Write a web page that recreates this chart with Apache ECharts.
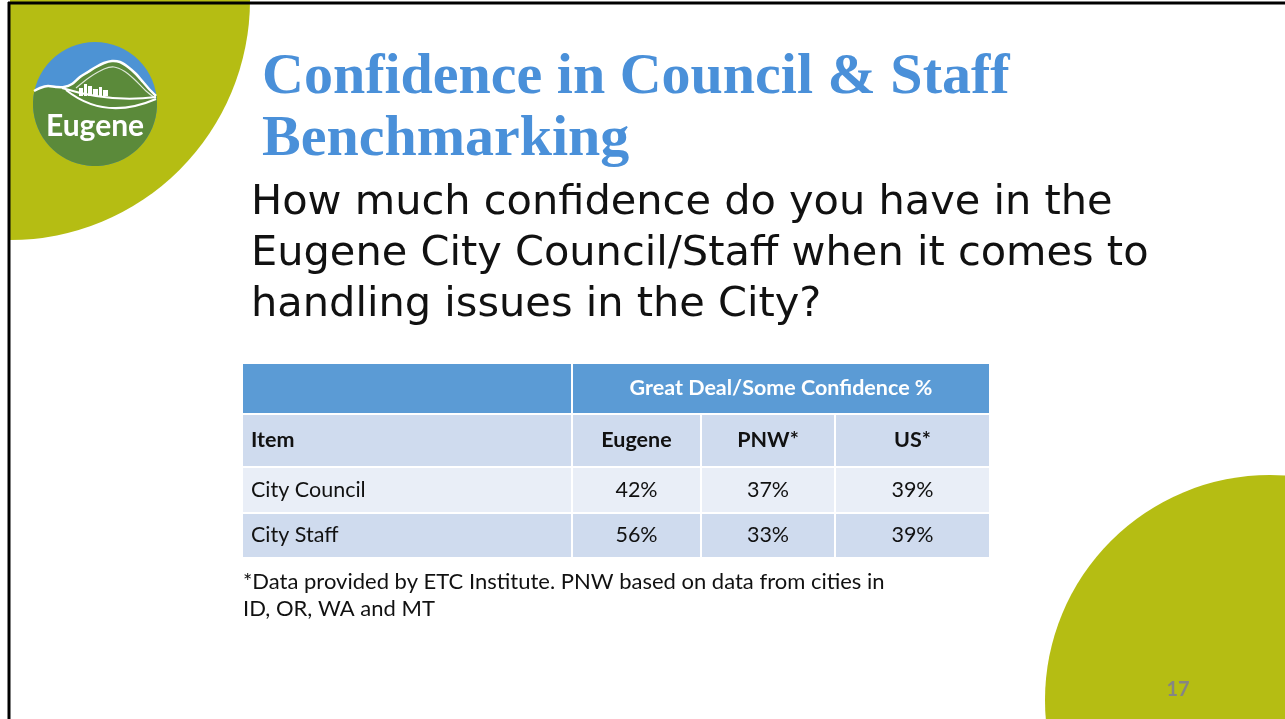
<!DOCTYPE html>
<html>
<head>
<meta charset="utf-8">
<title>Confidence in Council &amp; Staff Benchmarking</title>
<script src="https://cdn.jsdelivr.net/npm/echarts@6/dist/echarts.min.js"></script>
<style>
  html, body { margin: 0; padding: 0; background: #fff; }
  #main { width: 1285px; height: 719px; }
</style>
</head>
<body>
<div id="main"></div>
<script>
// ---- table data ----
var groupLabel = 'Great Deal/Some Confidence %';
var itemHeader = 'Item';
var places = ['Eugene', 'PNW*', 'US*'];
var items = ['City Council', 'City Staff'];
var eugene = [42, 56];
var pnw = [37, 33];
var us = [39, 39];

// ---- slide text ----
var titleText = 'Confidence in Council & Staff\nBenchmarking';
var questionLines = [
  'How much confidence do you have in the',
  'Eugene City Council/Staff when it comes to',
  'handling issues in the City?'
];
var footLines = [
  '*Data provided by ETC Institute. PNW based on data from cities in',
  'ID, OR, WA and MT'
];
var pageNo = '17';

// layout of table columns / rows (hidden value axes)
var colEdges = [0, 330, 459, 593, 748];
var rowEdges = [0, 51, 104, 150, 195];

// cells: [startCol, row, endCol], text + kind kept alongside
var cells = [];
var cellText = [];
var cellKind = [];
function addCell(c0, r, c1, txt, kind) {
  cells.push([c0, r, c1]);
  cellText.push(txt);
  cellKind.push(kind);
}
addCell(0, 0, 1, '', 'head');
addCell(1, 0, 4, groupLabel, 'head');
addCell(0, 1, 1, itemHeader, 'sub');
places.forEach(function (p, i) { addCell(i + 1, 1, i + 2, p, 'sub'); });
items.forEach(function (name, k) {
  var kind = k % 2 === 0 ? 'odd' : 'even';
  addCell(0, k + 2, 1, name, kind);
  [eugene, pnw, us].forEach(function (arr, i) {
    addCell(i + 1, k + 2, i + 2, arr[k] + '%', kind);
  });
});

var fills = { head: '#5b9bd5', sub: '#cfdbee', odd: '#e9eef7', even: '#cfdbee' };

function renderCell(params, api) {
  var idx = params.dataIndex;
  var c0 = api.value(0), r = api.value(1), c1 = api.value(2);
  var p0 = api.coord([colEdges[c0], rowEdges[r]]);
  var p1 = api.coord([colEdges[c1], rowEdges[r + 1]]);
  var kind = cellKind[idx];
  var x = p0[0] + 1, y = p0[1] + 1;
  var w = p1[0] - p0[0] - 2, h = p1[1] - p0[1] - 2;
  var left = c0 === 0;
  var bold = kind === 'head' || kind === 'sub';
  return {
    type: 'group',
    children: [
      { type: 'rect', shape: { x: x, y: y, width: w, height: h }, style: { fill: fills[kind] } },
      {
        type: 'text',
        x: left ? x + 8 : x + w / 2,
        y: y + h / 2,
        style: {
          text: cellText[idx],
          fill: kind === 'head' ? '#ffffff' : '#111111',
          font: (bold ? 'bold 21.5px' : '21.5px') + ' Lato',
          align: left ? 'left' : 'center',
          verticalAlign: 'middle'
        }
      }
    ]
  };
}

// logo: green hills polygon inside a blue circle
var lc = [95, 104], lr = 62;
var hill = [[34, 91], [40, 88], [48, 86], [56, 87], [64, 87], [72, 84], [80, 77], [88, 72], [96, 67], [104, 63], [112, 61], [120, 62], [128, 67], [136, 74], [143, 82], [149, 89], [156, 96]];
function greenShape() {
  var pts = [];
  var a0 = Math.atan2(96 - lc[1], 156 - lc[0]);
  var a1 = Math.atan2(91 - lc[1], 34 - lc[0]);
  if (a1 < a0) a1 += Math.PI * 2;
  for (var i = 0; i <= 40; i++) {
    var a = a0 + (a1 - a0) * i / 40;
    pts.push([lc[0] + lr * Math.cos(a), lc[1] + lr * Math.sin(a)]);
  }
  return pts.concat(hill);
}

var chart = echarts.init(document.getElementById('main'));
var option = {
  backgroundColor: '#ffffff',
  animation: false,
  title: {
    text: titleText,
    left: 257,
    top: 42,
    textStyle: {
      fontFamily: 'Liberation Serif',
      fontWeight: 'bold',
      fontSize: 58,
      lineHeight: 62,
      color: '#4a90d9'
    }
  },
  grid: { left: 242, top: 363, width: 748, height: 195 },
  xAxis: { type: 'value', min: 0, max: 748, show: false },
  yAxis: { type: 'value', min: 0, max: 195, inverse: true, show: false },
  graphic: [
    { type: 'sector', shape: { cx: 10, cy: 0, r: 240, startAngle: 0, endAngle: Math.PI / 2 }, style: { fill: '#b5bd13' }, z: -10 },
    { type: 'circle', shape: { cx: 1270, cy: 700, r: 225 }, style: { fill: '#b5bd13' }, z: -10 },
    { type: 'line', shape: { x1: 8, y1: 3, x2: 1285, y2: 3 }, style: { stroke: '#000', lineWidth: 3 }, z: 5 },
    { type: 'line', shape: { x1: 9, y1: 2, x2: 9, y2: 719 }, style: { stroke: '#000', lineWidth: 3 }, z: 5 },
    // logo
    { type: 'circle', shape: { cx: lc[0], cy: lc[1], r: lr }, style: { fill: '#4d93d4' }, z: 1 },
    { type: 'polygon', shape: { points: greenShape() }, style: { fill: '#5b8a3a' }, z: 2 },
    { type: 'polyline', shape: { points: hill, smooth: 0.3 }, style: { stroke: '#fff', lineWidth: 2.5, fill: null }, z: 3 },
    { type: 'polyline', shape: { points: [[76, 88], [90, 77], [104, 69], [114, 67], [124, 71], [134, 79], [146, 91], [155, 98]], smooth: 0.3 }, style: { stroke: '#fff', lineWidth: 1.2, fill: null, opacity: 0.8 }, z: 3 },
    { type: 'bezierCurve', shape: { x1: 62, y1: 88, cpx1: 110, cpy1: 103, x2: 156, y2: 97 }, style: { stroke: '#fff', lineWidth: 2, fill: null }, z: 3 },
    { type: 'bezierCurve', shape: { x1: 66, y1: 90, cpx1: 105, cpy1: 121, x2: 156, y2: 99 }, style: { stroke: '#fff', lineWidth: 2, fill: null }, z: 3 },
    { type: 'rect', shape: { x: 79, y: 88, width: 4, height: 8 }, style: { fill: '#fff' }, z: 3 },
    { type: 'rect', shape: { x: 84, y: 84, width: 3, height: 12 }, style: { fill: '#fff' }, z: 3 },
    { type: 'rect', shape: { x: 88, y: 86, width: 4, height: 10 }, style: { fill: '#fff' }, z: 3 },
    { type: 'rect', shape: { x: 93, y: 89, width: 5, height: 7 }, style: { fill: '#fff' }, z: 3 },
    { type: 'rect', shape: { x: 99, y: 87, width: 3, height: 9 }, style: { fill: '#fff' }, z: 3 },
    { type: 'rect', shape: { x: 103, y: 90, width: 5, height: 6 }, style: { fill: '#fff' }, z: 3 },
    { type: 'text', x: 95, y: 126, style: { text: 'Eugene', fill: '#fff', font: 'bold 30px Lato', align: 'center', verticalAlign: 'middle' }, z: 3 },
    // question
    { type: 'text', left: 251, top: 178, style: { text: questionLines.join('\n'), fill: '#111', font: '41.5px "DejaVu Sans"', lineHeight: 51 } },
    // footnote
    { type: 'text', left: 243, top: 568, style: { text: footLines.join('\n'), fill: '#111', font: '22px Lato', lineHeight: 27 } },
    { type: 'text', x: 1178, y: 690, style: { text: pageNo, fill: '#858585', font: 'bold 20px Lato', align: 'center', verticalAlign: 'middle' }, z: 3 }
  ],
  series: [{
    type: 'custom',
    renderItem: renderCell,
    data: cells,
    encode: { x: 0, y: 1 },
    silent: true
  }]
};
chart.setOption(option);
</script>
</body>
</html>
